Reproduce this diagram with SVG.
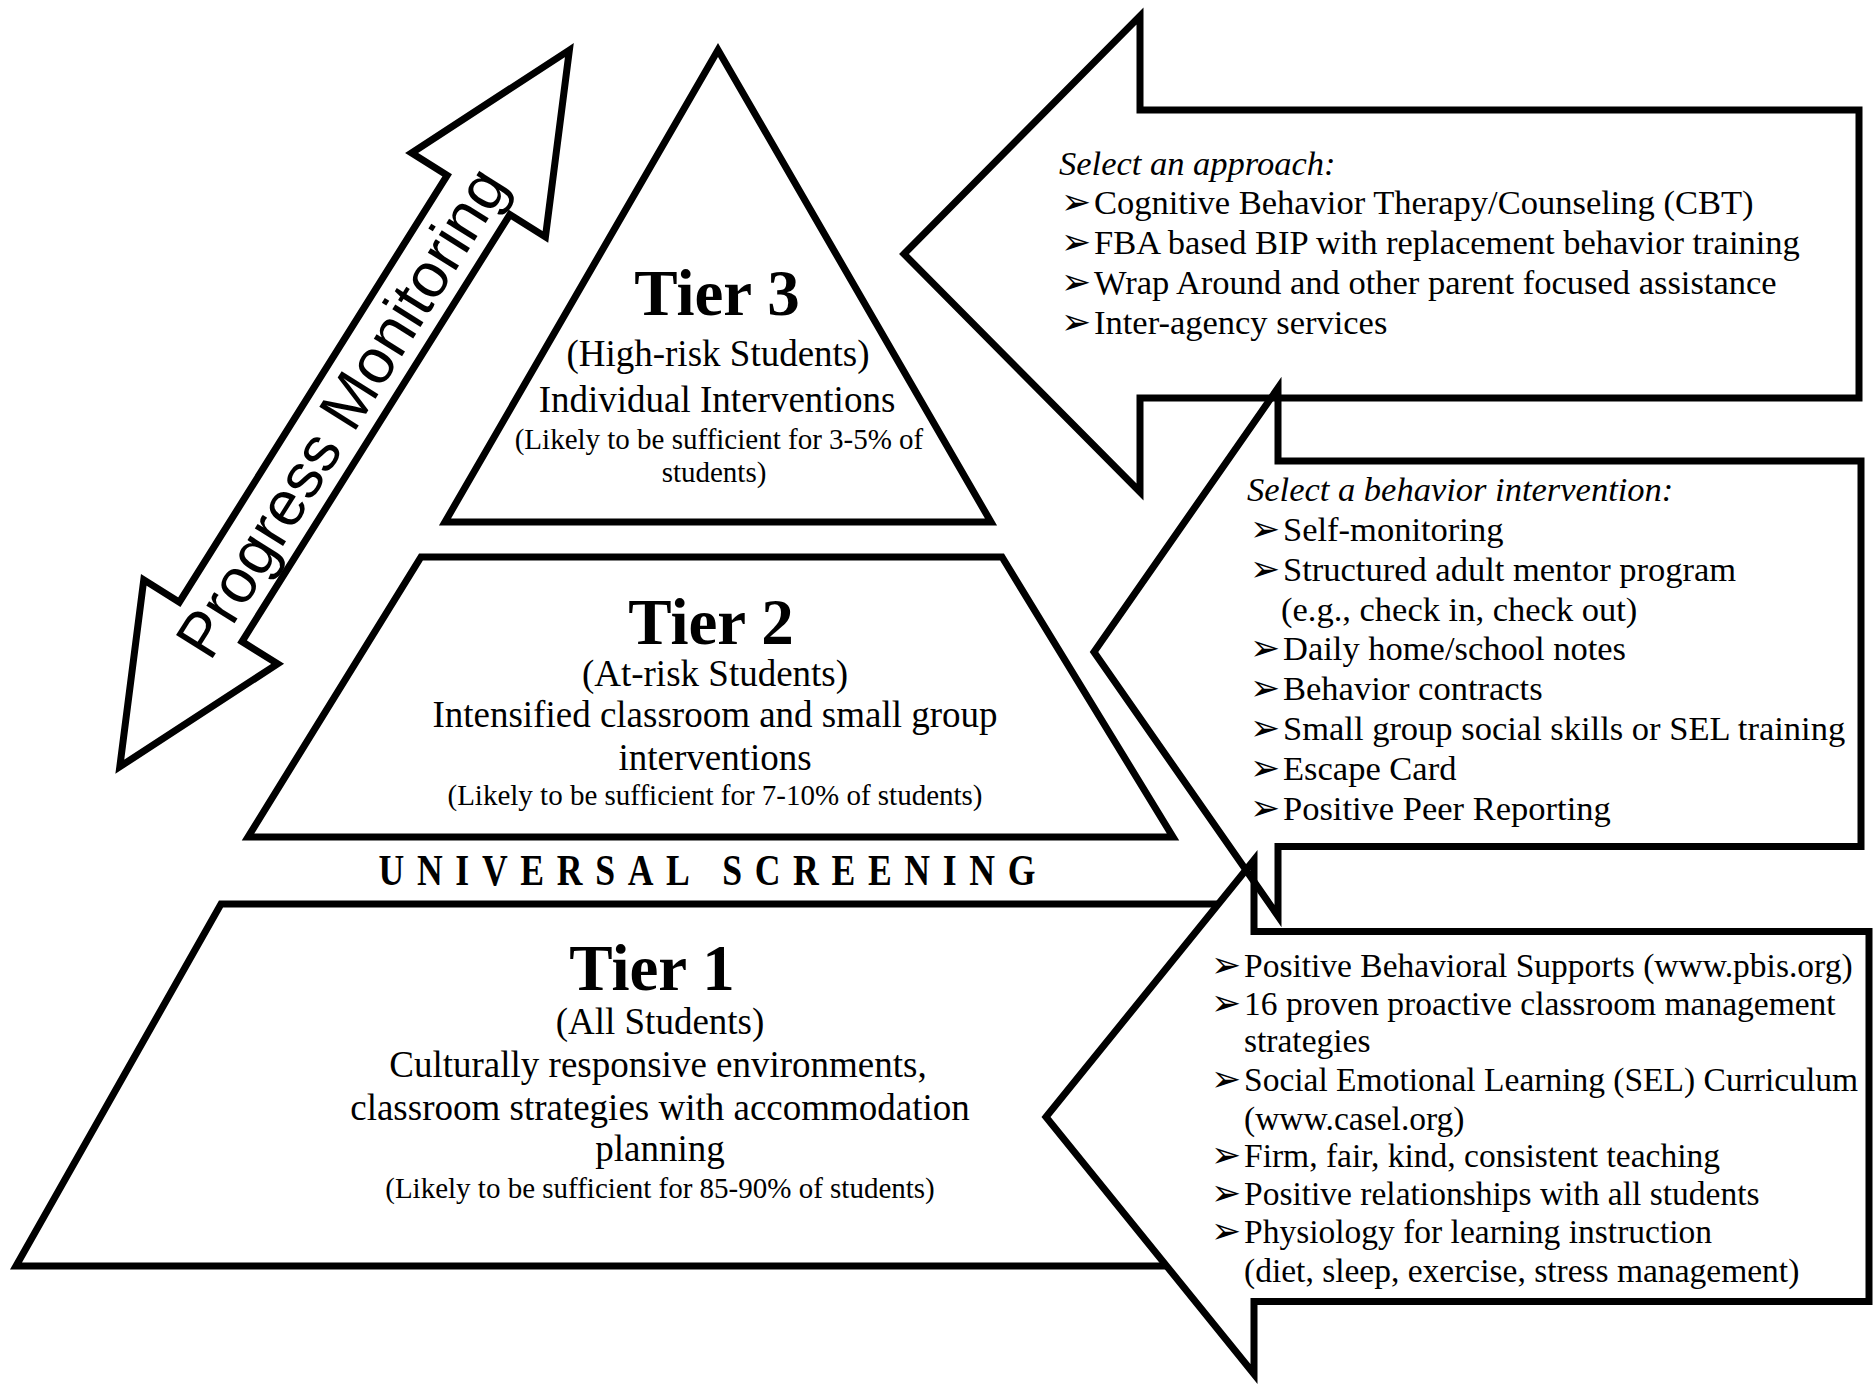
<svg xmlns="http://www.w3.org/2000/svg" width="1875" height="1385" viewBox="0 0 1875 1385">
  <style>
    .shape { fill: #fff; stroke: #000; stroke-width: 7; stroke-linejoin: miter; stroke-miterlimit: 10; }
    .open { fill: none; stroke: #000; stroke-width: 7; stroke-linejoin: miter; stroke-miterlimit: 10; }
    text { font-family: "Liberation Serif", "Times New Roman", serif; fill: #000; }
    .head { font-size: 65px; font-weight: bold; text-anchor: middle; }
    .body { font-size: 37px; text-anchor: middle; }
    .small { font-size: 29px; text-anchor: middle; }
    .item { font-size: 34.5px; }
    .item1 { font-size: 33.5px; }
    .ital { font-size: 34.5px; font-style: italic; }
    .bul { font-family: "DejaVu Sans", sans-serif; font-size: 36px; }
    .pm { font-family: "Liberation Sans", Arial, sans-serif; font-size: 63px; text-anchor: middle; }
    .us { font-size: 44px; font-weight: bold; text-anchor: middle; }
  </style>

  <!-- Tier 1 base of the pyramid (right end tucked under its arrow) -->
  <g id="tier1">
    <polygon class="shape" points="221,904 1245,904 1245,1266 16,1266"/>
    <text class="head" x="652" y="990">Tier 1</text>
    <text class="body" x="660" y="1034">(All Students)</text>
    <text class="body" x="658" y="1077">Culturally responsive environments,</text>
    <text class="body" x="660" y="1120">classroom strategies with accommodation</text>
    <text class="body" x="660" y="1161">planning</text>
    <text class="small" x="660" y="1198">(Likely to be sufficient for 85-90% of students)</text>
  </g>

  <!-- Tier 1 supports arrow -->
  <g id="tier1-supports">
    <polygon class="shape" points="1046,1117 1254,860 1254,931.5 1869,931.5 1869,1301.5 1254,1301.5 1254,1374"/>
    <text class="item1" y="976.5"><tspan class="bul" x="1211">➢</tspan><tspan x="1244">Positive Behavioral Supports (www.pbis.org)</tspan></text>
    <text class="item1" y="1014.5"><tspan class="bul" x="1211">➢</tspan><tspan x="1244">16 proven proactive classroom management</tspan></text>
    <text class="item1" x="1244" y="1052">strategies</text>
    <text class="item1" y="1091"><tspan class="bul" x="1211">➢</tspan><tspan x="1244">Social Emotional Learning (SEL) Curriculum</tspan></text>
    <text class="item1" x="1244" y="1129.5">(www.casel.org)</text>
    <text class="item1" y="1167"><tspan class="bul" x="1211">➢</tspan><tspan x="1244">Firm, fair, kind, consistent teaching</tspan></text>
    <text class="item1" y="1205"><tspan class="bul" x="1211">➢</tspan><tspan x="1244">Positive relationships with all students</tspan></text>
    <text class="item1" y="1243"><tspan class="bul" x="1211">➢</tspan><tspan x="1244">Physiology for learning instruction</tspan></text>
    <text class="item1" x="1244" y="1282">(diet, sleep, exercise, stress management)</text>
  </g>

  <!-- Tier 2 middle band -->
  <g id="tier2">
    <polygon class="shape" points="421,557 1002,557 1173,837 248,837"/>
    <text class="head" x="711" y="644">Tier 2</text>
    <text class="body" x="715" y="686">(At-risk Students)</text>
    <text class="body" x="715" y="727">Intensified classroom and small group</text>
    <text class="body" x="715" y="769.5">interventions</text>
    <text class="small" x="715" y="805">(Likely to be sufficient for 7-10% of students)</text>
  </g>

  <!-- Tier 3 apex -->
  <g id="tier3">
    <polygon class="shape" points="718,50 991,522 445,522"/>
    <text class="head" x="717" y="315">Tier 3</text>
    <text class="body" x="718" y="366">(High-risk Students)</text>
    <text class="body" x="717" y="411.5">Individual Interventions</text>
    <text class="small" x="719" y="449">(Likely to be sufficient for 3-5% of</text>
    <text class="small" x="714" y="481.5">students)</text>
  </g>

  <!-- Screening label between Tier 2 and Tier 1 -->
  <g id="universal-screening">
    <text class="us" transform="translate(707,885) scale(0.81,1)" x="0" y="0" textLength="811" lengthAdjust="spacing">UNIVERSAL SCREENING</text>
  </g>

  <!-- Arrows pointing into the pyramid, drawn as outlines so crossings stay visible -->
  <g id="connectors">
    <g id="tier2-interventions">
      <polygon class="open" points="1094,652 1278,388 1278,461 1861,461 1861,846.5 1278,846.5 1278,916"/>
    </g>
    <g id="tier3-approaches">
      <polygon class="open" points="904,254 1140,16 1140,110 1859,110 1859,398 1140,398 1140,492"/>
    </g>
  </g>

  <g id="tier2-list">
    <text class="ital" x="1247" y="501">Select a behavior intervention:</text>
    <text class="item" y="540.5"><tspan class="bul" x="1250">➢</tspan><tspan x="1283">Self-monitoring</tspan></text>
    <text class="item" y="581"><tspan class="bul" x="1250">➢</tspan><tspan x="1283">Structured adult mentor program</tspan></text>
    <text class="item" x="1281" y="620.5">(e.g., check in, check out)</text>
    <text class="item" y="660"><tspan class="bul" x="1250">➢</tspan><tspan x="1283">Daily home/school notes</tspan></text>
    <text class="item" y="700"><tspan class="bul" x="1250">➢</tspan><tspan x="1283">Behavior contracts</tspan></text>
    <text class="item" y="740"><tspan class="bul" x="1250">➢</tspan><tspan x="1283">Small group social skills or SEL training</tspan></text>
    <text class="item" y="780"><tspan class="bul" x="1250">➢</tspan><tspan x="1283">Escape Card</tspan></text>
    <text class="item" y="820"><tspan class="bul" x="1250">➢</tspan><tspan x="1283">Positive Peer Reporting</tspan></text>
  </g>

  <g id="tier3-list">
    <text class="ital" x="1059" y="175">Select an approach:</text>
    <text class="item" y="213.5"><tspan class="bul" x="1061">➢</tspan><tspan x="1094">Cognitive Behavior Therapy/Counseling (CBT)</tspan></text>
    <text class="item" y="253.5"><tspan class="bul" x="1061">➢</tspan><tspan x="1094">FBA based BIP with replacement behavior training</tspan></text>
    <text class="item" y="293.5"><tspan class="bul" x="1061">➢</tspan><tspan x="1094">Wrap Around and other parent focused assistance</tspan></text>
    <text class="item" y="333.5"><tspan class="bul" x="1061">➢</tspan><tspan x="1094">Inter-agency services</tspan></text>
  </g>

  <!-- Double-headed progress monitoring arrow -->
  <g id="progress-monitoring" transform="translate(344.6,408.4) rotate(-57.9)">
    <polygon class="shape" points="423,0 252,-79 252,-37 -252,-37 -252,-79 -423,0 -252,79 -252,37 252,37 252,79"/>
    <text class="pm" x="-5" y="21">Progress Monitoring</text>
  </g>
</svg>
